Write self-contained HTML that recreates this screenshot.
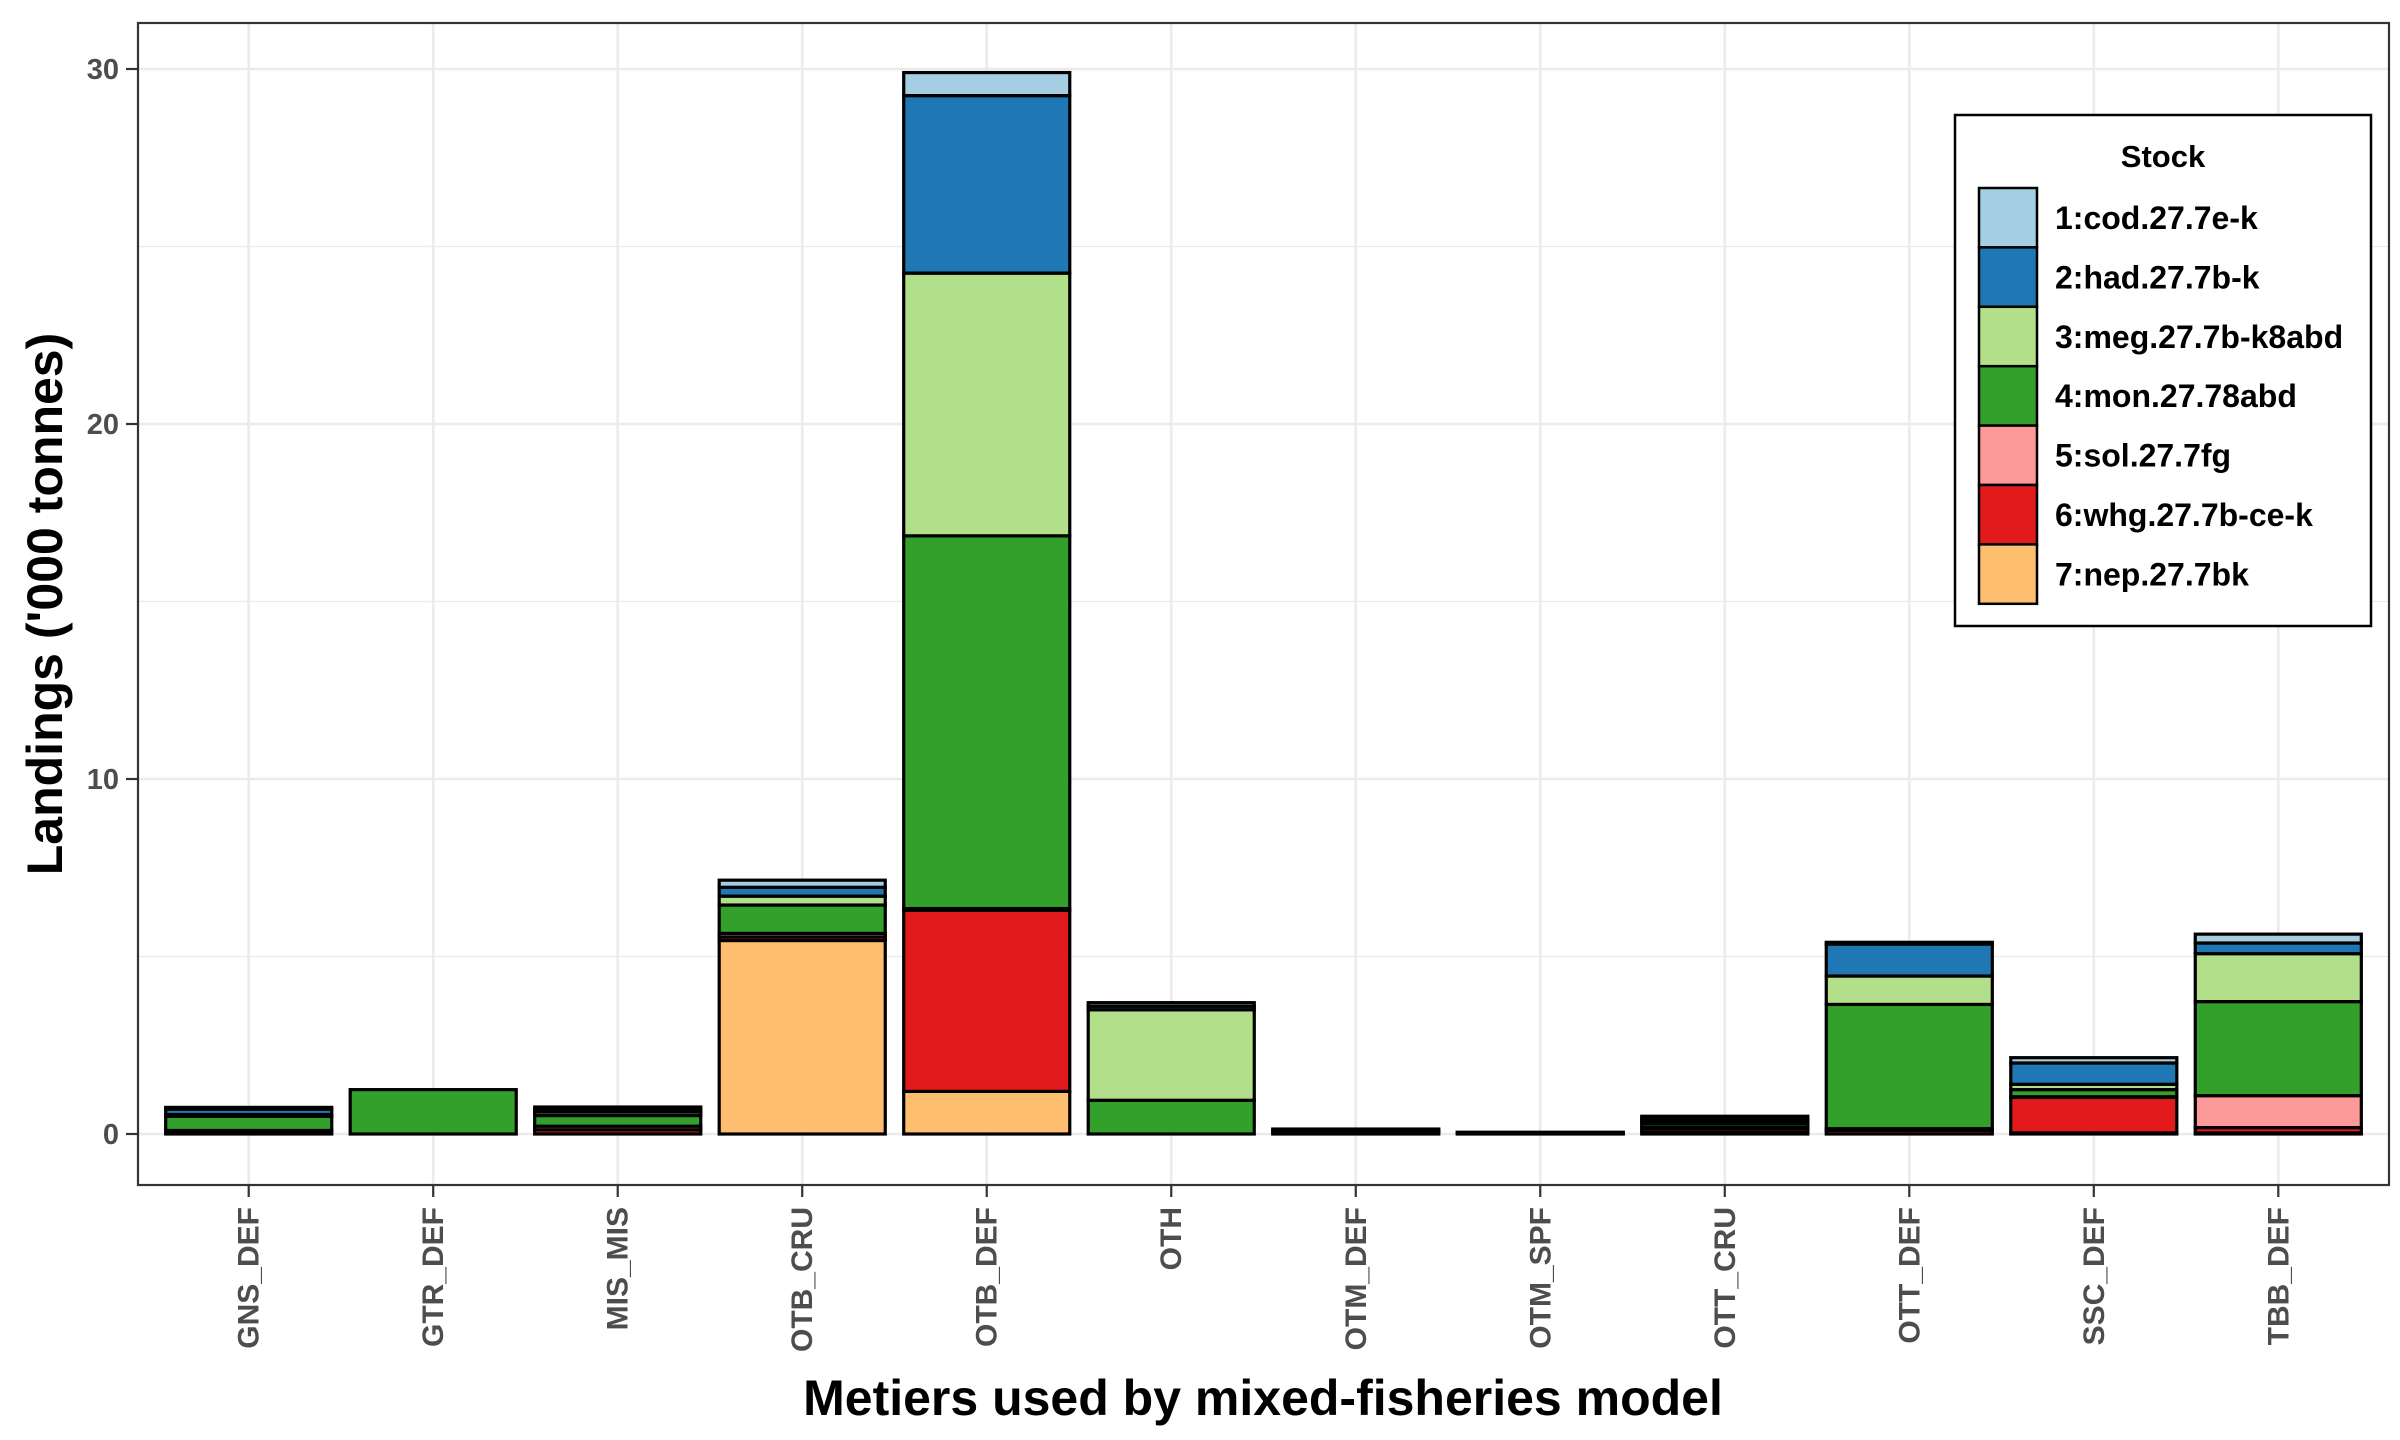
<!DOCTYPE html>
<html><head><meta charset="utf-8"><style>
html,body{margin:0;padding:0;background:#fff;}
svg{display:block;font-family:"Liberation Sans",Arial,sans-serif;font-weight:bold;}
</style></head><body>
<svg id="chart" width="2400" height="1440" viewBox="0 0 2400 1440" xmlns="http://www.w3.org/2000/svg">
<rect x="138" y="23" width="2251" height="1162" fill="#fff"/>
<g id="grid"></g>
<g id="bars"></g>
<rect x="138" y="23" width="2251" height="1162" fill="none" stroke="#333" stroke-width="2.2"/>
<g id="yaxis"></g>
<g id="xaxis"></g>
<text transform="translate(62,604) rotate(-90)" text-anchor="middle" font-size="50" fill="#000">Landings ('000 tonnes)</text>
<text x="1263" y="1415" text-anchor="middle" font-size="50" fill="#000">Metiers used by mixed-fisheries model</text>
<g id="legend">
<rect x="1955" y="115" width="416" height="511" fill="#fff" stroke="#000" stroke-width="2.5"/>
<text x="2163" y="167" text-anchor="middle" font-size="31" fill="#000">Stock</text>
</g>
</svg>
<script>
const categories = ["GNS_DEF","GTR_DEF","MIS_MIS","OTB_CRU","OTB_DEF","OTH","OTM_DEF","OTM_SPF","OTT_CRU","OTT_DEF","SSC_DEF","TBB_DEF"];
const nep = [0,0,0,5.45,1.2,0,0,0,0.05,0,0.03,0.03];
const whg = [0.05,0,0.12,0.1,5.1,0,0,0.03,0.1,0.1,1.0,0.15];
const sol = [0.05,0,0.1,0.1,0.05,0,0,0,0.05,0.05,0.02,0.9];
const mon = [0.4,1.25,0.3,0.8,10.5,0.95,0.05,0.02,0.1,3.5,0.2,2.65];
const meg = [0.05,0,0.1,0.25,7.4,2.55,0.05,0,0.08,0.8,0.15,1.35];
const had = [0.15,0,0.08,0.25,5.0,0.1,0.04,0,0.08,0.9,0.6,0.3];
const cod = [0.05,0,0.06,0.2,0.65,0.1,0,0,0.04,0.05,0.15,0.25];
const stockLabels = ["1:cod.27.7e-k","2:had.27.7b-k","3:meg.27.7b-k8abd","4:mon.27.78abd","5:sol.27.7fg","6:whg.27.7b-ce-k","7:nep.27.7bk"];
const yTicks = [0,10,20,30];
const yMinor = [5,15,25];

const NS="http://www.w3.org/2000/svg";
const colors=["#a6cee3","#1f78b4","#b2df8a","#33a02c","#fb9a99","#e31a1c","#fdbf6f"];
const seriesTopDown=[cod,had,meg,mon,sol,whg,nep];
const keys=["cod","had","meg","mon","sol","whg","nep"];
const px0=138,pw=2251,n=categories.length,step=pw/(n+0.2);
const xC=i=>px0+(i+0.6)*step;
const yS=v=>1134-v*(1065/30);
function mk(t,a,p){const e=document.createElementNS(NS,t);for(const k in a)e.setAttribute(k,a[k]);p.appendChild(e);return e;}
const grid=document.getElementById('grid');
yMinor.forEach(v=>{const l=mk('line',{x1:138,x2:2389,y1:yS(v),y2:yS(v),stroke:'#ebebeb','stroke-width':1.3},grid);

});
yTicks.forEach(v=>{const l=mk('line',{x1:138,x2:2389,y1:yS(v),y2:yS(v),stroke:'#ebebeb','stroke-width':2.6},grid);

});
categories.forEach((c,i)=>{const l=mk('line',{x1:xC(i),x2:xC(i),y1:23,y2:1185,stroke:'#ebebeb','stroke-width':2.6},grid);

});
const bars=document.getElementById('bars');
const bw=step*0.9;
const bottomUp=[6,5,4,3,2,1,0];
categories.forEach((c,i)=>{
  let acc=0;
  bottomUp.forEach(s=>{
    const v=seriesTopDown[s][i];
    if(v<=0)return;
    const y1=yS(acc),y2=yS(acc+v);
    const r=mk('rect',{x:xC(i)-bw/2,y:y2,width:bw,height:y1-y2,fill:colors[s],stroke:'#000','stroke-width':3.2},bars);
    
    
    acc+=v;
  });
});
const ya=document.getElementById('yaxis');
yTicks.forEach(v=>{
  const t=mk('line',{x1:126,x2:138,y1:yS(v),y2:yS(v),stroke:'#333','stroke-width':2.2},ya);
  
  
  const tx=mk('text',{x:119,y:yS(v)+10,'text-anchor':'end','font-size':29,fill:'#4d4d4d'},ya);
  tx.textContent=v;
  
  
});
const xa=document.getElementById('xaxis');
categories.forEach((c,i)=>{
  const t=mk('line',{x1:xC(i),x2:xC(i),y1:1185,y2:1197,stroke:'#333','stroke-width':2.2},xa);
  
  
  const tx=mk('text',{transform:`translate(${xC(i)+10},1207) rotate(-90)`,'text-anchor':'end','font-size':30,fill:'#4d4d4d'},xa);
  tx.textContent=c;
  
  
});
const lg=document.getElementById('legend');
stockLabels.forEach((s,k)=>{
  const y=188+k*59.4;
  const r=mk('rect',{x:1979,y:y,width:58,height:59.4,fill:colors[k],stroke:'#000','stroke-width':2.5},lg);
  
  
  const tx=mk('text',{x:2055,y:y+41,'font-size':32,fill:'#000'},lg);
  tx.textContent=s;
  
  
});
</script>
</body></html>
